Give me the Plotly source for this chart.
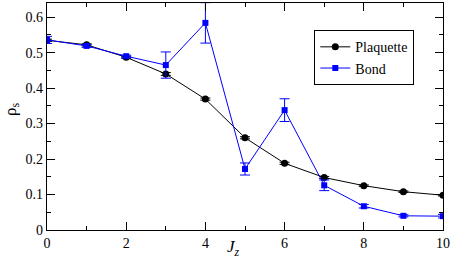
import plotly.graph_objects as go

jz = [0, 1, 2, 3, 4, 5, 6, 7, 8, 9, 10]
plaquette = [0.535, 0.522, 0.487, 0.440, 0.369, 0.260, 0.188, 0.148, 0.125, 0.108, 0.098]
plaquette_err = [0.003, 0.003, 0.003, 0.004, 0.003, 0.003, 0.003, 0.003, 0.002, 0.002, 0.002]
bond = [0.536, 0.519, 0.490, 0.465, 0.584, 0.172, 0.338, 0.126, 0.067, 0.040, 0.039]
bond_err = [0.010, 0.004, 0.003, 0.037, 0.057, 0.017, 0.032, 0.015, 0.005, 0.003, 0.005]

font = "Liberation Serif"

fig = go.Figure()
fig.add_trace(go.Scatter(
    x=jz, y=plaquette, name="Plaquette", mode="lines+markers",
    line=dict(color="black", width=1),
    marker=dict(symbol="circle", size=7, color="black"),
    error_y=dict(type="data", array=plaquette_err, color="black", thickness=1, width=5),
))
fig.add_trace(go.Scatter(
    x=jz, y=bond, name="Bond", mode="lines+markers",
    line=dict(color="#0000ff", width=1),
    marker=dict(symbol="square", size=6, color="#0000ff"),
    error_y=dict(type="data", array=bond_err, color="#0000ff", thickness=1, width=5),
))

axis_common = dict(
    showgrid=False, zeroline=False, showline=True, linecolor="black", linewidth=1.3,
    mirror="ticks", ticks="inside", ticklen=8, tickwidth=1, tickcolor="black",
    tickfont=dict(family=font, size=14, color="black"), automargin=False,
)
fig.update_xaxes(
    range=[0, 10], dtick=2, tick0=0,
    minor=dict(dtick=1, ticks="inside", ticklen=4, tickcolor="black", showgrid=False),
    **axis_common,
)
fig.update_yaxes(
    range=[0, 0.64], dtick=0.1, tick0=0,
    minor=dict(dtick=0.05, ticks="inside", ticklen=4, tickcolor="black", showgrid=False),
    **axis_common,
)
fig.add_annotation(
    text="<i>J<sub>z</sub></i>", xref="paper", yref="paper", x=0.47, y=-0.135,
    xanchor="center", yanchor="bottom", showarrow=False,
    font=dict(family=font, size=17, color="black"),
)
fig.add_annotation(
    text="ρ<sub>s</sub>", xref="paper", yref="paper", x=-0.09, y=0.53,
    xanchor="center", yanchor="middle", showarrow=False, textangle=-90,
    font=dict(family=font, size=17, color="black"),
)
fig.update_layout(
    template="none",
    width=452, height=262,
    margin=dict(l=47, r=9, t=3, b=32, autoexpand=False),
    plot_bgcolor="white", paper_bgcolor="white",
    font=dict(family=font, size=14, color="black"),
    showlegend=True,
    legend=dict(
        x=0.675, y=0.88, xanchor="left", yanchor="top",
        bgcolor="white", bordercolor="black", borderwidth=1,
        font=dict(family=font, size=14, color="black"),
        itemwidth=30, tracegroupgap=0,
    ),
)
fig.write_html(
    "out.html",
    config={"displayModeBar": False},
    post_script="document.body.style.margin='0';document.body.style.overflow='hidden';",
)
